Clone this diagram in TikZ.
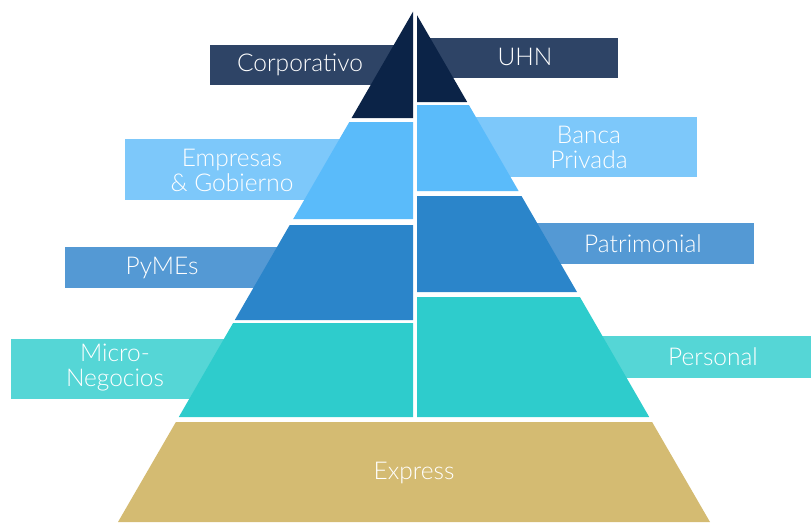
\documentclass[tikz,border=0pt]{standalone}
\usepackage{fontspec}
\setmainfont{Lato Light}
\definecolor{navy}{HTML}{0B2347}
\definecolor{navybox}{HTML}{2E4466}
\definecolor{lblue}{HTML}{5ABBFA}
\definecolor{lbluebox}{HTML}{7DC8FA}
\definecolor{mblue}{HTML}{2B85CA}
\definecolor{mbluebox}{HTML}{5499D4}
\definecolor{teal}{HTML}{2ECCCC}
\definecolor{tealbox}{HTML}{55D6D6}
\definecolor{gold}{HTML}{D4BB72}
\begin{document}
\begin{tikzpicture}[x=1pt,y=-1pt,
  lbl/.style={text=white,font=\fontsize{24.5}{25}\selectfont,align=center,inner sep=0pt}]
\useasboundingbox (0,0) rectangle (811,522);
% label boxes (behind pyramid)
\fill[navybox] (210,45) rectangle (400,85);
\fill[navybox] (430,38) rectangle (618,78);
\fill[lbluebox] (125,139) rectangle (380,200);
\fill[lbluebox] (440,117) rectangle (697,177);
\fill[mbluebox] (65,247) rectangle (300,288);
\fill[mbluebox] (500,223) rectangle (754,264);
\fill[tealbox] (11,339) rectangle (250,399);
\fill[tealbox] (580,336) rectangle (811,378);
% pyramid left half
\fill[navy] (413,11.7) -- (413,118) -- (351.6,118) -- cycle;
\fill[lblue] (349.3,122) -- (413,122) -- (413,219) -- (293.2,219) -- cycle;
\fill[mblue] (289.7,225) -- (413,225) -- (413,320) -- (234.8,320) -- cycle;
\fill[teal] (233.1,323) -- (413,323) -- (413,417) -- (178.8,417) -- cycle;
% pyramid right half
\fill[navy] (417,15.2) -- (467.2,102) -- (417,102) -- cycle;
\fill[lblue] (417,105) -- (468.9,105) -- (518.6,191) -- (417,191) -- cycle;
\fill[mblue] (417,196) -- (521.5,196) -- (577.0,292) -- (417,292) -- cycle;
\fill[teal] (417,297) -- (579.9,297) -- (649.2,417) -- (417,417) -- cycle;
% base
\fill[gold] (175.9,422) -- (652.1,422) -- (710,522) -- (118,522) -- cycle;
% labels
\node[lbl] (corp) at (300,65) {Corporativo};
\node[lbl] (uhn) at (525,57) {UHN};
\node[lbl] (emp) at (232,170) {Empresas\\\& Gobierno};
\node[lbl] (banca) at (589,147) {Banca\\Privada};
\node[lbl] (pymes) at (162,268) {PyMEs};
\node[lbl] (patr) at (643,244) {Patrimonial};
\node[lbl] (micro) at (115,368) {Micro-\\Negocios};
\node[lbl] (pers) at (713,357) {Personal};
\node[lbl] (expr) at (414,473) {Express};
\end{tikzpicture}
\end{document}
